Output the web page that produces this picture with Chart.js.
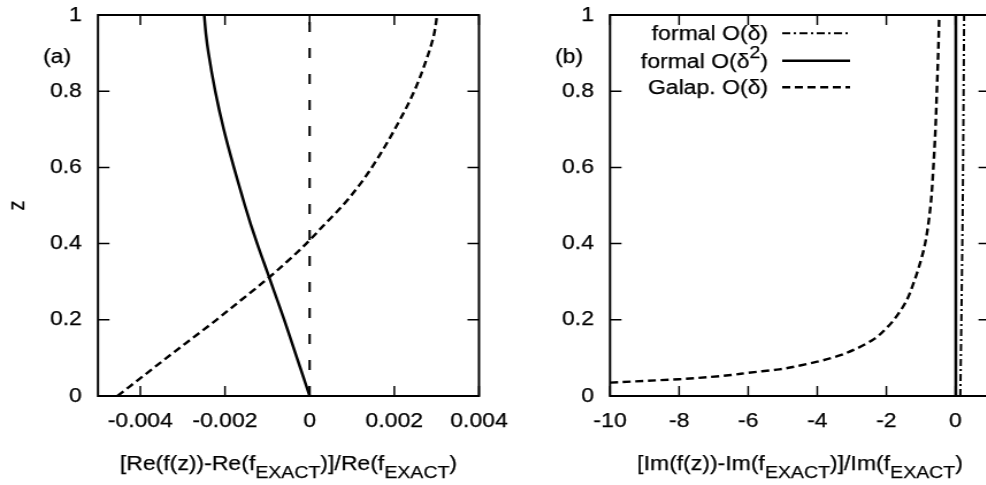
<!DOCTYPE html>
<html>
<head>
<meta charset="utf-8">
<script src="https://cdn.jsdelivr.net/npm/chart.js@4.4.0/dist/chart.umd.min.js"></script>
<style>
  html, body { margin: 0; padding: 0; background: #fff; overflow: hidden; width: 986px; height: 485px; }
  /* glyphs are a little wider than the plain font, so the canvases get stretched sideways */
  canvas { position: absolute; top: 0; transform-origin: 0 0; transform: scaleX(1.15); }
  #panelA { left: 0; }
  #panelB { left: 520px; }
</style>
</head>
<body>
<canvas id="panelA" width="452" height="485"></canvas>
<canvas id="panelB" width="417" height="485"></canvas>
<script>
var FONT = '"Liberation Sans", Arial, Helvetica, sans-serif';
var TEXT_STROKE = 0.25;   // thickens the glyphs a little

// panel (a): relative error of the real part
var zA = [0, 0.05, 0.1, 0.15, 0.2, 0.25, 0.3, 0.35, 0.4, 0.45, 0.5, 0.55, 0.6, 0.7, 0.8, 0.9, 0.95, 1];
var reFormal2 = [0, -0.00015, -0.0003, -0.00045, -0.0006, -0.00076, -0.00092, -0.00108, -0.00124, -0.00139,
                 -0.00153, -0.00166, -0.00179, -0.00203, -0.00223, -0.00239, -0.00245, -0.00249];
var reGalap = [-0.00454, -0.00396, -0.00338, -0.00279, -0.0022, -0.00164, -0.00108, -0.00056, -0.00008, 0.00035,
               0.00078, 0.00115, 0.00147, 0.00201, 0.00247, 0.00281, 0.00294, 0.00301];
var zZero = [0, 1];
var reZero = [0, 0];

// panel (b): relative error of the imaginary part
var zGalapB = [0.035, 0.04, 0.044, 0.05, 0.055, 0.061, 0.07, 0.08, 0.09, 0.105, 0.125, 0.15, 0.178, 0.2,
               0.25, 0.3, 0.35, 0.4, 0.5, 0.6, 0.7, 0.8, 0.9, 1];
var imGalap = [-10, -8.9, -8, -7.1, -6.5, -6, -5.1, -4.5, -4, -3.4, -2.85, -2.35, -2, -1.78,
               -1.42, -1.2, -1.02, -0.88, -0.72, -0.64, -0.58, -0.54, -0.5, -0.47];
var zFormal1B = [0, 0.2, 0.5, 1];
var imFormal1 = [0.14, 0.17, 0.21, 0.25];
var zFormal2B = [0, 1];
var imFormal2 = [0.01, 0.01];

// ticks
var xTicksA = [-0.004, -0.002, 0, 0.002, 0.004];
var xTicksB = [-10, -8, -6, -4, -2, 0];
var zTicks = [0, 0.2, 0.4, 0.6, 0.8, 1];

// texts with sub/superscripts: [text, 0 normal | -1 sub | 1 sup]
var titleA = [['[Re(f(z))-Re(f', 0], ['EXACT', -1], [')]/Re(f', 0], ['EXACT', -1], [')', 0]];
var titleB = [['[Im(f(z))-Im(f', 0], ['EXACT', -1], [')]/Im(f', 0], ['EXACT', -1], [')', 0]];
var legendB = [
  [['formal O(δ)', 0]],
  [['formal O(δ', 0], ['2', 1], [')', 0]],
  [['Galap. O(δ)', 0]]
];

function pts(zs, xs) {
  return zs.map(function (z, i) { return { x: xs[i], y: z }; });
}

function putText(ctx, s, x, y) {
  ctx.fillText(s, x, y);
  ctx.strokeText(s, x, y);
}

function drawParts(ctx, parts, x, y, size, align) {
  var small = size * 0.85;
  var w = 0;
  parts.forEach(function (p) {
    ctx.font = (p[1] ? small : size) + 'px ' + FONT;
    w += ctx.measureText(p[0]).width;
  });
  var cx = align === 'right' ? x - w : align === 'center' ? x - w / 2 : x;
  ctx.textAlign = 'left';
  parts.forEach(function (p) {
    ctx.font = (p[1] ? small : size) + 'px ' + FONT;
    putText(ctx, p[0], cx, y + (p[1] < 0 ? 8 : p[1] > 0 ? -9 : 0));
    cx += ctx.measureText(p[0]).width;
  });
}

// box with inward ticks on all sides, panel tag, axis titles and key
var gnuplotFrame = {
  id: 'gnuplotFrame',
  afterDatasetsDraw: function (chart, args, opts) {
    var a = chart.chartArea, ctx = chart.ctx;
    var sx = chart.scales.x, sy = chart.scales.y;
    ctx.save();
    ctx.strokeStyle = '#000';
    ctx.fillStyle = '#000';
    ctx.setLineDash([]);
    ctx.lineWidth = 1.5;
    ctx.beginPath();
    sx.ticks.forEach(function (t) {
      var px = sx.getPixelForValue(t.value);
      ctx.moveTo(px, a.bottom); ctx.lineTo(px, a.bottom - 10);
      ctx.moveTo(px, a.top); ctx.lineTo(px, a.top + 10);
    });
    sy.ticks.forEach(function (t) {
      var py = sy.getPixelForValue(t.value);
      ctx.moveTo(a.left, py); ctx.lineTo(a.left + 10, py);
      ctx.moveTo(a.right, py); ctx.lineTo(a.right - 10, py);
    });
    ctx.stroke();
    ctx.lineWidth = 2;
    ctx.strokeRect(a.left, a.top, a.right - a.left, a.bottom - a.top);

    ctx.lineWidth = TEXT_STROKE;
    ctx.textBaseline = 'middle';
    ctx.textAlign = 'left';
    ctx.font = '20px ' + FONT;
    putText(ctx, opts.tag, opts.tagX, 57);

    ctx.textBaseline = 'alphabetic';
    drawParts(ctx, opts.title, (a.left + a.right) / 2, 470, 20, 'center');

    if (opts.ylabel) {
      ctx.save();
      ctx.translate(15, (a.top + a.bottom) / 2);
      ctx.rotate(-Math.PI / 2);
      ctx.textAlign = 'center';
      ctx.textBaseline = 'middle';
      ctx.font = '20px ' + FONT;
      putText(ctx, opts.ylabel, 0, 0);
      ctx.restore();
    }

    if (opts.legend) {
      ctx.textBaseline = 'middle';
      var rows = [33.3, 60.7, 87.3];
      chart.data.datasets.forEach(function (ds, i) {
        ctx.lineWidth = TEXT_STROKE;
        ctx.setLineDash([]);
        drawParts(ctx, opts.legend[i], 215.7, rows[i] + 1.5, 20, 'right');
        ctx.lineWidth = ds.borderWidth;
        ctx.setLineDash(ds.borderDash || []);
        ctx.beginPath();
        ctx.moveTo(228, rows[i]);
        ctx.lineTo(287, rows[i]);
        ctx.stroke();
      });
    }
    ctx.restore();
  }
};

function makeChart(id, datasets, xMin, xMax, xTicks, yWidth, padRight, frame) {
  var tickFont = { family: FONT, size: 20 };
  return new Chart(document.getElementById(id), {
    type: 'line',
    data: { datasets: datasets },
    options: {
      responsive: false,
      animation: false,
      indexAxis: 'y',
      layout: { padding: { left: 0, right: padRight, top: 15, bottom: 0 } },
      elements: {
        point: { radius: 0 },
        line: { cubicInterpolationMode: 'monotone', borderColor: '#000', fill: false }
      },
      plugins: { legend: { display: false }, tooltip: { enabled: false }, gnuplotFrame: frame },
      scales: {
        x: {
          type: 'linear', min: xMin, max: xMax,
          afterBuildTicks: function (s) { s.ticks = xTicks.map(function (v) { return { value: v }; }); },
          afterFit: function (s) { s.height = 89; s.paddingLeft = 0; s.paddingRight = 0; },
          grid: { display: false, drawTicks: false },
          border: { display: false },
          ticks: { color: '#000', padding: 13, autoSkip: false, maxRotation: 0, font: tickFont,
                   textStrokeColor: '#000', textStrokeWidth: TEXT_STROKE,
                   callback: function (v) { return String(v); } }
        },
        y: {
          type: 'linear', min: 0, max: 1,
          afterBuildTicks: function (s) { s.ticks = zTicks.map(function (v) { return { value: v }; }); },
          afterFit: function (s) { s.width = yWidth; s.paddingTop = 0; s.paddingBottom = 0; },
          grid: { display: false, drawTicks: false },
          border: { display: false },
          ticks: { color: '#000', padding: 14, autoSkip: false, font: tickFont,
                   textStrokeColor: '#000', textStrokeWidth: TEXT_STROKE,
                   callback: function (v) { return String(v); } }
        }
      }
    },
    plugins: [gnuplotFrame]
  });
}

makeChart('panelA', [
  { label: 'formal O(δ²)', data: pts(zA, reFormal2), borderWidth: 2.5 },
  { label: 'Galap. O(δ)', data: pts(zA, reGalap), borderWidth: 2.4, borderDash: [7, 4] },
  { label: 'zero', data: pts(zZero, reZero), borderWidth: 2, borderDash: [10, 16] }
], -0.005, 0.004, xTicksA, 85.2, 35.5, { tag: '(a)', tagX: 37.4, title: titleA, ylabel: 'z' });

makeChart('panelB', [
  { label: 'formal O(δ)', data: pts(zFormal1B, imFormal1), borderWidth: 2, borderDash: [7, 3, 2, 3] },
  { label: 'formal O(δ²)', data: pts(zFormal2B, imFormal2), borderWidth: 2.5 },
  { label: 'Galap. O(δ)', data: pts(zGalapB, imGalap), borderWidth: 2.4, borderDash: [7, 4] }
], -10, 1, xTicksB, 78.3, 8.3, { tag: '(b)', tagX: 30.4, title: titleB, legend: legendB });
</script>
</body>
</html>
